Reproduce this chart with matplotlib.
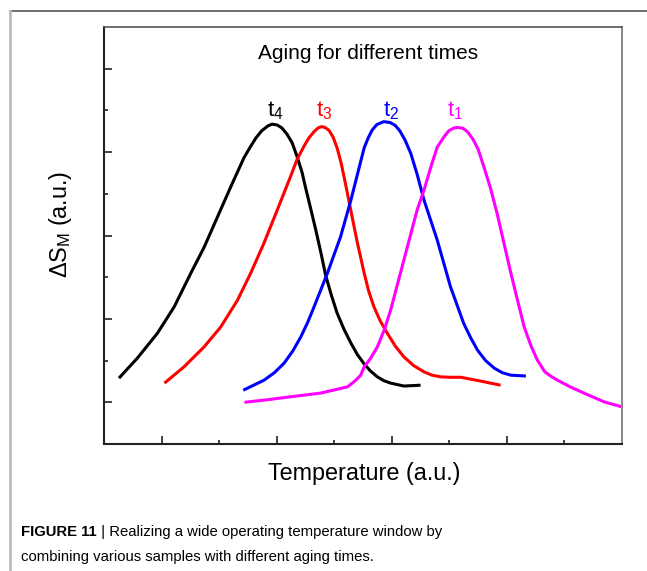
import matplotlib

matplotlib.use("Agg")
import matplotlib.pyplot as plt
from matplotlib.lines import Line2D
from matplotlib.ticker import FixedLocator, NullFormatter

plt.rcParams["font.family"] = ["Liberation Sans", "DejaVu Sans"]
plt.rcParams["mathtext.fontset"] = "custom"
plt.rcParams["mathtext.rm"] = "Liberation Sans"
plt.rcParams["mathtext.it"] = "Liberation Sans:italic"

# ---- curves (x: temperature a.u., y: dS_M a.u.) ----
t4_x = [0.26, 0.58, 0.93, 1.22, 1.51, 1.74, 1.97, 2.20, 2.43, 2.54, 2.64,
        2.74, 2.85, 2.92, 3.01, 3.09, 3.18, 3.27, 3.35, 3.44, 3.50, 3.59,
        3.68, 3.77, 3.85, 3.95, 4.05, 4.17, 4.29, 4.40, 4.52, 4.63, 4.75,
        4.86, 4.98, 5.21, 5.50]
t4_y = [1.58, 2.06, 2.66, 3.29, 4.10, 4.72, 5.44, 6.16, 6.86, 7.12, 7.34,
        7.51, 7.63, 7.67, 7.65, 7.58, 7.43, 7.22, 6.91, 6.52, 6.16, 5.65,
        5.13, 4.58, 4.05, 3.57, 3.14, 2.75, 2.42, 2.15, 1.92, 1.75, 1.61,
        1.52, 1.46, 1.39, 1.41]

t3_x = [1.05, 1.39, 1.74, 2.03, 2.32, 2.55, 2.78, 3.01, 3.24, 3.35, 3.47,
        3.56, 3.65, 3.72, 3.78, 3.84, 3.91, 3.98, 4.05, 4.12, 4.20, 4.29,
        4.40, 4.52, 4.60, 4.69, 4.80, 4.92, 5.06, 5.21, 5.38, 5.56, 5.70,
        5.85, 6.02, 6.20, 6.54, 6.89]
t3_y = [1.46, 1.85, 2.33, 2.81, 3.45, 4.10, 4.82, 5.61, 6.41, 6.81, 7.13,
        7.34, 7.49, 7.58, 7.61, 7.59, 7.52, 7.36, 7.10, 6.74, 6.21, 5.59,
        4.84, 4.10, 3.66, 3.29, 2.95, 2.66, 2.35, 2.09, 1.88, 1.73, 1.65,
        1.61, 1.60, 1.60, 1.51, 1.41]

t2_x = [2.42, 2.78, 2.96, 3.13, 3.28, 3.42, 3.54, 3.65, 3.88, 4.11, 4.29,
        4.40, 4.52, 4.59, 4.66, 4.74, 4.86, 4.97, 5.06, 5.14, 5.23, 5.33,
        5.44, 5.56, 5.79, 6.02, 6.25, 6.37, 6.49, 6.63, 6.78, 6.92, 7.07,
        7.33]
t2_y = [1.29, 1.53, 1.71, 1.94, 2.23, 2.57, 2.92, 3.29, 4.09, 4.97, 5.85,
        6.45, 7.10, 7.34, 7.53, 7.66, 7.73, 7.71, 7.64, 7.51, 7.29, 6.97,
        6.47, 5.85, 4.89, 3.77, 2.89, 2.55, 2.25, 2.00, 1.82, 1.71, 1.65,
        1.63]

t1_x = [2.44, 2.83, 3.23, 3.76, 4.23, 4.36, 4.46, 4.52, 4.63, 4.75, 4.87,
        4.98, 5.21, 5.44, 5.56, 5.68, 5.79, 5.91, 5.99, 6.08, 6.15, 6.24,
        6.32, 6.41, 6.50, 6.60, 6.71, 6.83, 7.07, 7.19, 7.30, 7.42, 7.53,
        7.66, 7.77, 7.88, 8.10, 8.34, 8.69, 9.00]
t1_y = [1.00, 1.06, 1.13, 1.22, 1.37, 1.51, 1.65, 1.85, 2.05, 2.33, 2.74,
        3.21, 4.41, 5.61, 6.09, 6.65, 7.12, 7.37, 7.51, 7.58, 7.59, 7.57,
        7.48, 7.31, 7.07, 6.65, 6.16, 5.53, 4.09, 3.42, 2.81, 2.35, 2.01,
        1.73, 1.62, 1.53, 1.37, 1.22, 1.01, 0.89]

series = [
    ("t_4", t4_x, t4_y, "black", 2.97),
    ("t_3", t3_x, t3_y, "#ff0000", 3.82),
    ("t_2", t2_x, t2_y, "#0000ff", 4.99),
    ("t_1", t1_x, t1_y, "#ff00ff", 6.10),
]

major_x = [1, 3, 5, 7]
minor_x = [2, 4, 6, 8]
major_y = [1, 3, 5, 7, 9]
minor_y = [2, 4, 6, 8]

fig = plt.figure(figsize=(6.47, 5.71), dpi=100)
ax = fig.add_axes([104 / 647, 1 - 444 / 571, 518 / 647, 417 / 571])

for name, xs, ys, col, lx in series:
    ax.plot(xs, ys, color=col, lw=2.2, solid_capstyle="butt",
            solid_joinstyle="round")
    ax.text(lx, 7.85, r"$\mathregular{%s}$" % name, color=col, fontsize=16,
            ha="center", va="baseline")

ax.text(4.59, 9.23, "Aging for different times", fontsize=15,
        ha="center", va="baseline")

ax.set_xlim(0, 9)
ax.set_ylim(0, 10)
ax.xaxis.set_major_locator(FixedLocator(major_x))
ax.xaxis.set_minor_locator(FixedLocator(minor_x))
ax.yaxis.set_major_locator(FixedLocator(major_y))
ax.yaxis.set_minor_locator(FixedLocator(minor_y))
ax.xaxis.set_major_formatter(NullFormatter())
ax.yaxis.set_major_formatter(NullFormatter())
ax.tick_params(which="both", direction="in", color="#222222", width=1.2,
               top=False, right=False)
ax.tick_params(which="major", length=5.8)
ax.tick_params(which="minor", length=2.9)

for side in ("left", "bottom"):
    ax.spines[side].set_color("#222222")
    ax.spines[side].set_linewidth(1.5)
ax.spines["top"].set_color("#555555")
ax.spines["top"].set_linewidth(1.2)
ax.spines["right"].set_color("#888888")
ax.spines["right"].set_linewidth(1.4)

fig.text(364.5 / 647, 1 - 480 / 571, "Temperature (a.u.)", fontsize=16.8,
         ha="center", va="baseline")
fig.text(60 / 647, 1 - 224 / 571, r"$\Delta$S$_\mathregular{M}$ (a.u.)",
         fontsize=16.8, rotation=90, ha="center", va="center")

# outer frame of the figure panel
fig.add_artist(Line2D([10 / 647, 1], [1 - 11 / 571, 1 - 11 / 571],
                      color="#555555", lw=1.2))
fig.add_artist(Line2D([10 / 647, 10 / 647], [0, 1 - 11 / 571],
                      color="#bbbbbb", lw=2))

# caption
t_bold = fig.text(21 / 647, 1 - 536 / 571, "FIGURE 11", fontsize=10.7,
                  fontweight="bold", va="baseline")
ax.annotate(" | Realizing a wide operating temperature window by",
            xy=(1, 0), xycoords=t_bold, va="bottom", ha="left",
            fontsize=10.7, annotation_clip=False)
fig.text(21 / 647, 1 - 560.7 / 571,
         "combining various samples with different aging times.",
         fontsize=10.7, va="baseline")

fig.savefig("out.png", dpi=100)
